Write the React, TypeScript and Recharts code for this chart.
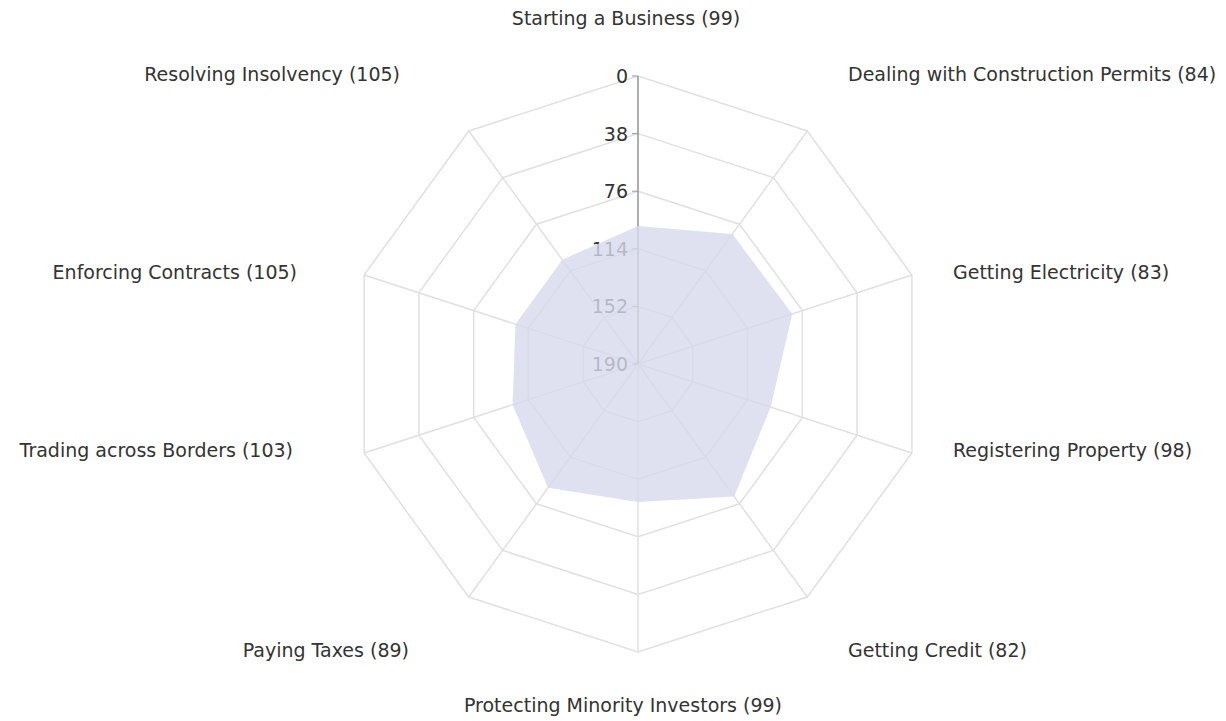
import { RadarChart, Radar, PolarGrid, PolarAngleAxis, PolarRadiusAxis } from 'recharts';

const categories = [
  'Starting a Business',
  'Dealing with Construction Permits',
  'Getting Electricity',
  'Registering Property',
  'Getting Credit',
  'Protecting Minority Investors',
  'Paying Taxes',
  'Trading across Borders',
  'Enforcing Contracts',
  'Resolving Insolvency',
];
const ranks = [99, 84, 83, 98, 82, 99, 89, 103, 105, 105];
const radiusTicks = [0, 38, 76, 114, 152, 190];

const CX = 638;
const CY = 364;
const FONT = 'DejaVu Sans';
const FS = 19;

// label placement around the web, relative to the centre
const LABEL_POS: [number, number, 'start' | 'middle' | 'end'][] = [
  [-12, -346, 'middle'],
  [210, -290, 'start'],
  [315, -92, 'start'],
  [315, 86, 'start'],
  [210, 286, 'start'],
  [-15, 341, 'middle'],
  [-229, 286, 'end'],
  [-345, 86, 'end'],
  [-341, -92, 'end'],
  [-238, -290, 'end'],
];

const data = categories.map((c, i) => ({ name: `${c} (${ranks[i]})`, rank: ranks[i] }));

function AngleTick(props: any) {
  const { payload, index } = props;
  const [dx, dy, anchor] = LABEL_POS[index];
  return (
    <text x={CX + dx} y={CY + dy} textAnchor={anchor} dominantBaseline="central" style={{ fontSize: FS, fontFamily: FONT, fill: '#333' }}>
      {payload.value}
    </text>
  );
}

function RadiusTick(props: any) {
  const { x, y, payload } = props;
  return (
    <g>
      <line x1={x - 6} y1={y} x2={x} y2={y} stroke="#999" strokeWidth={1} />
      <text x={x - 10} y={y} textAnchor="end" dominantBaseline="central" style={{ fontSize: FS, fontFamily: FONT, fill: '#333' }}>
        {payload.value}
      </text>
    </g>
  );
}

export default function App() {
  return (
    <div style={{ position: 'absolute', left: 0, top: 0, background: '#fff', fontFamily: FONT }}>
      <RadarChart width={1226} height={721} data={data} cx={CX} cy={CY} outerRadius={288} margin={{ top: 0, right: 0, bottom: 0, left: 0 }}>
        <PolarGrid gridType="polygon" stroke="#e0e0e0" strokeWidth={1.5} />
        <PolarRadiusAxis
          angle={90}
          domain={[0, 190]}
          reversed
          ticks={radiusTicks}
          tickCount={6}
          axisLine={{ stroke: '#888', strokeWidth: 1.2 }}
          tickLine={false}
          tick={<RadiusTick />}
        />
        <PolarAngleAxis dataKey="name" tick={<AngleTick />} tickLine={false} axisLine={false} />
        <Radar dataKey="rank" stroke="none" fill="#d7daec" fillOpacity={0.8} isAnimationActive={false} zIndex={1000} />
      </RadarChart>
    </div>
  );
}
